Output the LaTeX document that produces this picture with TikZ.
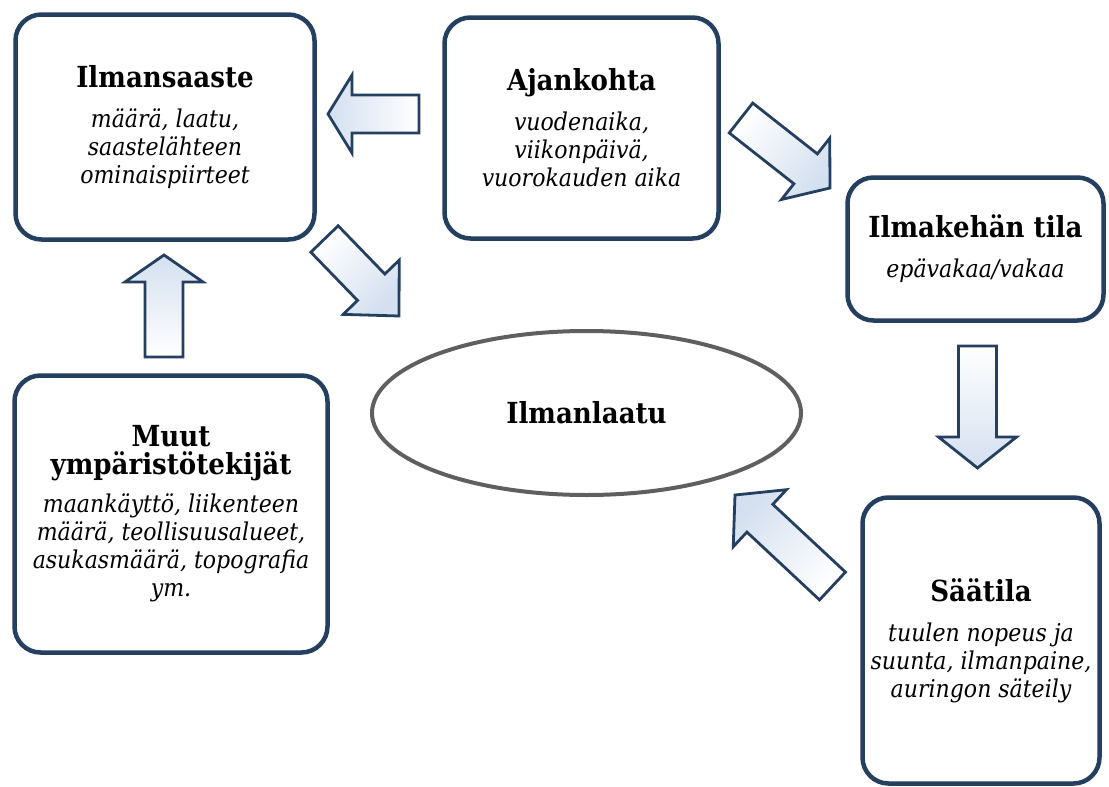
\documentclass[tikz,border=0pt]{standalone}
\usepackage{fontspec}
\setmainfont{DejaVu Serif Condensed}
\usepackage{tikz}
\usetikzlibrary{calc,shapes.geometric}
\definecolor{BoxNavy}{RGB}{36,63,96}
\definecolor{ArrowBlue}{RGB}{212,224,240}
\definecolor{RingGray}{RGB}{95,95,95}
\newcommand{\boxtitle}[1]{{\fontsize{29}{32}\selectfont\upshape\bfseries #1}}
% block arrow: tail, tip, head length, shading angle
\newcommand{\blockarrow}[4]{%
    \coordinate (ahead) at ($(#2)!#3pt!(#1)$);
    \shade[draw=BoxNavy,line width=2.8pt,top color=white,bottom color=ArrowBlue,shading angle=#4]
        ($(#1)!19pt!90:(#2)$) -- ($(ahead)!19pt!90:(#2)$) -- ($(ahead)!39pt!90:(#2)$) -- (#2)
        -- ($(ahead)!39pt!-90:(#2)$) -- ($(ahead)!19pt!-90:(#2)$) -- ($(#1)!19pt!-90:(#2)$) -- cycle;
}
\tikzset{
    infobox/.style={draw=BoxNavy,line width=4.5pt,rounded corners=26pt,fill=white,align=center,
        inner sep=0pt,font=\fontsize{24.5}{28}\selectfont\itshape},
}
\begin{document}
\begin{tikzpicture}[x=1pt,y=-1pt]
    \useasboundingbox (0,0) rectangle (1109,787);
    % boxes
    \node[infobox,minimum width=299pt,minimum height=225pt] (saaste) at (165,127)
        {\boxtitle{Ilmansaaste}\\[12pt] määrä, laatu,\\ saastelähteen\\ ominaispiirteet};
    \node[infobox,minimum width=274pt,minimum height=221pt] (aika) at (581.5,128)
        {\boxtitle{Ajankohta}\\[12pt] vuodenaika,\\ viikonpäivä,\\ vuorokauden aika};
    \node[infobox,minimum width=256pt,minimum height=143pt] (ilmakeha) at (975.5,249)
        {\boxtitle{Ilmakehän tila}\\[12pt] epävakaa/vakaa};
    \node[infobox,minimum width=237pt,minimum height=286pt] (saatila) at (981,640.5)
        {\boxtitle{Säätila}\\[12pt] tuulen nopeus ja\\ suunta, ilmanpaine,\\ auringon säteily};
    \node[infobox,minimum width=313pt,minimum height=277pt] (muut) at (171,514)
        {\boxtitle{Muut}\\ \boxtitle{ympäristötekijät}\\[10pt] maankäyttö, liikenteen\\ määrä, teollisuusalueet,\\
         asukasmäärä, topografia\\ ym.};
    \node[ellipse,draw=RingGray,line width=4pt,minimum width=429pt,minimum height=164pt,inner sep=0pt]
        (laatu) at (586.5,413) {\boxtitle{Ilmanlaatu}};

    % arrows
    \coordinate (a1s) at (419,114);   \coordinate (a1e) at (328,114);
    \coordinate (a2s) at (324.5,239); \coordinate (a2e) at (399,316);
    \coordinate (a3s) at (741,118);   \coordinate (a3e) at (830,188);
    \coordinate (a4s) at (977.5,346); \coordinate (a4e) at (977.5,468);
    \coordinate (a5s) at (832.5,586); \coordinate (a5e) at (735,495);
    \coordinate (a6s) at (164,357);   \coordinate (a6e) at (164,255);
    \blockarrow{a1s}{a1e}{24}{270}
    \blockarrow{a2s}{a2e}{40}{45}
    \blockarrow{a3s}{a3e}{31}{52}
    \blockarrow{a4s}{a4e}{31}{0}
    \blockarrow{a5s}{a5e}{34}{227}
    \blockarrow{a6s}{a6e}{27}{180}
\end{tikzpicture}
\end{document}
